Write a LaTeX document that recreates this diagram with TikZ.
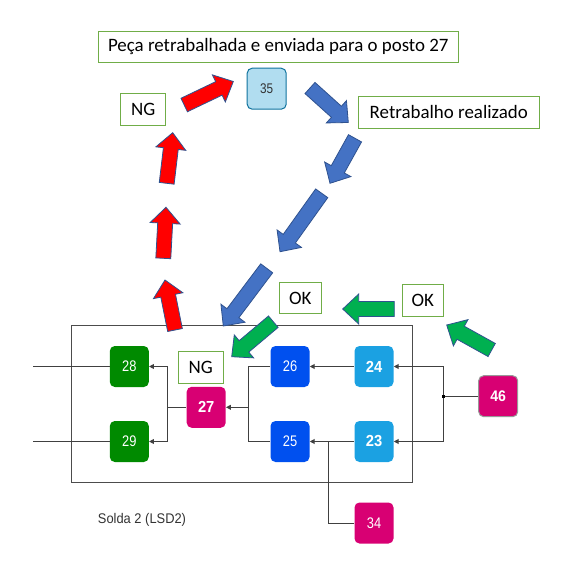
\documentclass[tikz,border=0pt]{standalone}
\usepackage{fontspec}
\setmainfont{Liberation Sans}
\newfontfamily\boxfont{Carlito}
\newfontfamily\numfontn[FakeStretch=0.84]{Liberation Sans}
\newfontfamily\numfontb[FakeStretch=0.92]{Liberation Sans}
\usetikzlibrary{calc,arrows.meta}
\definecolor{boxgreen}{HTML}{70AD47}
\definecolor{stgreen}{HTML}{008A00}
\definecolor{stmag}{HTML}{D80073}
\definecolor{stblue}{HTML}{0050EF}
\definecolor{stlblue}{HTML}{1BA1E2}
\definecolor{stpale}{HTML}{B1DDF0}
\definecolor{stpaleline}{HTML}{10739E}
\definecolor{arrred}{HTML}{FF0000}
\definecolor{arrblue}{HTML}{4472C4}
\definecolor{arrgreen}{HTML}{00B050}
\definecolor{arrline}{HTML}{2F528F}
\definecolor{txtgrey}{HTML}{333333}
\newcommand\blockarr[3]{%
  \path ($(#2)!12pt!(#1)$) coordinate (hb);
  \filldraw[fill=#3, draw=arrline, line width=0.6pt, line join=miter]
    ($(#1)!5.6pt!90:(#2)$) -- ($(hb)!5.6pt!90:(#2)$) -- ($(hb)!11.25pt!90:(#2)$)
    -- (#2) -- ($(hb)!11.25pt!-90:(#2)$) -- ($(hb)!5.6pt!-90:(#2)$)
    -- ($(#1)!5.6pt!-90:(#2)$) -- cycle;}
\tikzset{
  station/.style={rounded corners=3.75pt, minimum width=29.25pt, minimum height=30.75pt,
    inner sep=0pt, text=white},
  stbold/.style={station, font=\numfontb\fontsize{12pt}{14pt}\selectfont\bfseries},
  streg/.style={station, font=\numfontn\fontsize{11.5pt}{13pt}\selectfont},
  label box/.style={draw=boxgreen, line width=0.75pt, fill=white, inner sep=0pt,
    font=\boxfont\fontsize{14.2pt}{17pt}\selectfont, text=black},
  flowline/.style={draw=black!75, line width=0.75pt},
  flowarr/.style={flowline, -{Triangle[length=3.6pt,width=3.6pt]}},
}
\begin{document}
\begin{tikzpicture}[x=0.75pt,y=-0.75pt]
\useasboundingbox (0,0) rectangle (571,563);
\fill[white] (0,0) rectangle (571,563);

% container
\node[draw=black!70, line width=0.75pt, minimum width=255.97pt, minimum height=117.97pt, inner sep=0pt]
  (lsd) at (241.65,403.65) {};
\node[text=txtgrey, font=\numfontb\fontsize{10.5pt}{12pt}\selectfont, anchor=base west, inner sep=0pt]
  (solda) at (97.7,523.3) {Solda 2 (LSD2)};

% stations
\node[streg, fill=stgreen] (n28) at (129.3,366.5) {28};
\node[streg, fill=stgreen] (n29) at (129.3,441.5) {29};
\node[stbold, fill=stmag] (n27) at (206.2,407.3) {27};
\node[streg, fill=stblue] (n26) at (290,366.5) {26};
\node[streg, fill=stblue] (n25) at (290,441.5) {25};
\node[stbold, fill=stlblue] (n24) at (374,366.5) {24};
\node[stbold, fill=stlblue] (n23) at (374,441.5) {23};
\node[stbold, fill=stmag, draw=black!40, line width=0.75pt,
  font=\numfontb\fontsize{11.5pt}{13pt}\selectfont\bfseries] (n46) at (498.2,396.2) {46};
\node[streg, fill=stmag] (n34) at (374,523) {34};
\node[station, fill=stpale, draw=stpaleline, line width=0.75pt, text=txtgrey,
  font=\numfontn\fontsize{10.5pt}{12pt}\selectfont] (n35) at (266.7,88.7) {35};

% label boxes
\node[label box, minimum width=270pt, minimum height=23.6pt] (lpeca) at (278.3,46.8)
  {Peça retrabalhada e enviada para o posto 27};
\node[label box, minimum width=33.75pt, minimum height=23.8pt] (ngtop) at (143.2,109.2) {NG};
\node[label box, minimum width=135.75pt, minimum height=24.2pt] (lretr) at (448.8,112.2)
  {Retrabalho realizado};
\node[label box, minimum width=31.5pt, minimum height=23.5pt] (ok1) at (300.3,298.3) {OK};
\node[label box, minimum width=30.75pt, minimum height=23.8pt] (ok2) at (422.8,300.2) {OK};
\node[label box, minimum width=33.75pt, minimum height=23.7pt] (nglow) at (200.8,367.5) {NG};

% junctions
\coordinate (in1) at (33.3,366.5);
\coordinate (in2) at (33.3,441.5);
\coordinate (j1) at (167.7,407.3);
\coordinate (j2) at (248.3,407.3);
\coordinate (j3) at (443.3,396.2);
\coordinate (j4) at (328.7,441.5);

% connectors
\draw[flowline] (in1) -- (n28.west);
\draw[flowline] (in2) -- (n29.west);
\draw[flowline] (n27.west) -- (j1);
\draw[flowarr] (j1) |- (n28.east);
\draw[flowarr] (j1) |- (n29.east);
\draw[flowarr] (j2) -- (n27.east);
\draw[flowline] (n26.west) -| (j2);
\draw[flowline] (n25.west) -| (j2);
\draw[flowarr] (n24.west) -- (n26.east);
\draw[flowarr] (n23.west) -- (n25.east);
\draw[flowline] (n46.west) -- (j3);
\draw[flowarr] (j3) |- (n24.east);
\draw[flowarr] (j3) |- (n23.east);
\fill[black] ($(j3)+(-1.5,-1.5)$) rectangle ($(j3)+(1.5,1.5)$);
\draw[flowline] (n34.west) -| (j4);

% block arrows: tails and tips
\coordinate (r1t) at (184.2,105);   \coordinate (r1h) at (233.3,81.5);
\coordinate (r2t) at (166.7,183.3); \coordinate (r2h) at (172.7,132.7);
\coordinate (r3t) at (163.3,258.3); \coordinate (r3h) at (166,207.3);
\coordinate (r4t) at (175,330);     \coordinate (r4h) at (165,280);
\coordinate (b1t) at (310,88);      \coordinate (b1h) at (348.3,122.5);
\coordinate (b2t) at (355,138.3);   \coordinate (b2h) at (330,183.3);
\coordinate (b3t) at (321.7,193.3); \coordinate (b3h) at (280,251.7);
\coordinate (b4t) at (266.7,268.3); \coordinate (b4h) at (223.3,326);
\coordinate (g1t) at (394.3,309);   \coordinate (g1h) at (342.7,309);
\coordinate (g2t) at (491.7,350);   \coordinate (g2h) at (446.7,325);
\coordinate (g3t) at (273.3,321.7); \coordinate (g3h) at (231.7,356.7);

\blockarr{r1t}{r1h}{arrred}
\blockarr{r2t}{r2h}{arrred}
\blockarr{r3t}{r3h}{arrred}
\blockarr{r4t}{r4h}{arrred}
\blockarr{b1t}{b1h}{arrblue}
\blockarr{b2t}{b2h}{arrblue}
\blockarr{b3t}{b3h}{arrblue}
\blockarr{b4t}{b4h}{arrblue}
\blockarr{g1t}{g1h}{arrgreen}
\blockarr{g2t}{g2h}{arrgreen}
\blockarr{g3t}{g3h}{arrgreen}
\end{tikzpicture}
\end{document}
